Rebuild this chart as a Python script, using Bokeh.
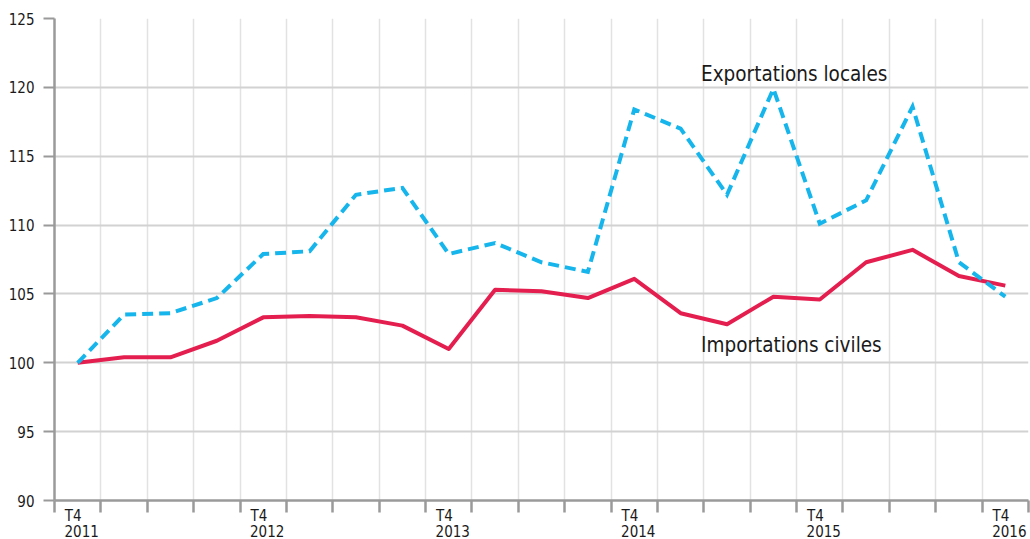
from bokeh.plotting import figure
from bokeh.models import Range1d, FixedTicker, Label, LinearAxis
from bokeh.embed import file_html
from bokeh.resources import INLINE

# ---- data ----
quarters = list(range(21))  # T4 2011 ... T4 2016
exportations_locales = [100.0, 103.5, 103.6, 104.7, 107.9, 108.1, 112.2, 112.7, 107.9,
                        108.7, 107.3, 106.6, 118.4, 117.0, 112.2, 119.9, 110.1, 111.8,
                        118.6, 107.3, 104.8]
importations_civiles = [100.0, 100.4, 100.4, 101.6, 103.3, 103.4, 103.3, 102.7, 101.0,
                        105.3, 105.2, 104.7, 106.1, 103.6, 102.8, 104.8, 104.6, 107.3,
                        108.2, 106.3, 105.6]
tick_quarters = [0, 4, 8, 12, 16, 20]
tick_quarter_names = ["T4", "T4", "T4", "T4", "T4", "T4"]
tick_years = ["2011", "2012", "2013", "2014", "2015", "2016"]
y_ticks = [90, 95, 100, 105, 110, 115, 120, 125]
series_names = ["Exportations locales", "Importations civiles"]

FONT = "DejaVu Sans Condensed"
AXIS_COL = "#9a9a9a"
TXT = "#1a1a1a"

p = figure(width=1030, height=539, output_backend="svg", toolbar_location=None,
           x_range=Range1d(-0.5, 20.5), y_range=Range1d(90, 125),
           min_border_left=54, min_border_right=2, min_border_top=18, min_border_bottom=39)
p.outline_line_color = None
p.background_fill_color = "white"
p.border_fill_color = "white"

bounds = [q - 0.5 for q in range(len(quarters) + 1)]

# first x axis: tick marks at quarter boundaries + "T4"
q_pos = [q - 0.095 for q in tick_quarters]
p.xaxis.ticker = FixedTicker(ticks=q_pos, minor_ticks=bounds)
p.xaxis.major_label_overrides = {m: t for m, t in zip(q_pos, tick_quarter_names)}
p.xaxis.major_tick_out = 0
p.xaxis.major_tick_in = 0
p.xaxis.minor_tick_out = 12
p.xaxis.minor_tick_in = 0
p.xaxis.minor_tick_line_color = AXIS_COL
p.xaxis.minor_tick_line_width = 2.5
p.xaxis.major_label_standoff = -6
p.xaxis.major_label_text_font_size = "15px"

# second x axis: years
y_pos = [q + 0.086 for q in tick_quarters]
year_axis = LinearAxis(ticker=FixedTicker(ticks=y_pos),
                       major_label_overrides={m: t for m, t in zip(y_pos, tick_years)})
year_axis.axis_line_color = None
year_axis.major_tick_line_color = None
year_axis.minor_tick_line_color = None
year_axis.major_tick_out = 0
year_axis.major_tick_in = 0
year_axis.minor_tick_out = 0
year_axis.minor_tick_in = 0
year_axis.major_label_standoff = -3
year_axis.major_label_text_font_size = "15px"
year_axis.major_label_text_font = FONT
year_axis.major_label_text_color = TXT
p.add_layout(year_axis, "below")

p.yaxis.ticker = FixedTicker(ticks=y_ticks)
p.yaxis.major_tick_out = 11
p.yaxis.major_tick_in = 0
p.yaxis.minor_tick_out = 0
p.yaxis.minor_tick_in = 0
p.yaxis.major_label_standoff = 9
p.yaxis.major_tick_line_color = AXIS_COL
p.yaxis.major_tick_line_width = 2
p.yaxis.major_label_text_font_size = "15px"

for ax in (p.xaxis[0], p.yaxis[0]):
    ax.axis_line_color = AXIS_COL
    ax.axis_line_width = 2.5
    ax.major_label_text_font = FONT
    ax.major_label_text_color = TXT

p.xgrid.ticker = FixedTicker(ticks=bounds)
p.xgrid.grid_line_color = "#e2e2e2"
p.xgrid.grid_line_width = 1.5
p.ygrid.grid_line_color = "#d2d2d2"
p.ygrid.grid_line_width = 2

p.line(quarters, importations_civiles, line_color="#e41f4f", line_width=4,
       line_join="round")
p.line(quarters, exportations_locales, line_color="#16b6ec", line_width=4,
       line_dash="11 6", line_join="miter")

p.add_layout(Label(x=13.44, y=120.1, text=series_names[0], text_font=FONT,
                   text_font_size="20.5px", text_color=TXT))
p.add_layout(Label(x=13.44, y=100.4, text=series_names[1], text_font=FONT,
                   text_font_size="20.5px", text_color=TXT))

open("out.html", "w").write(file_html(p, INLINE))
